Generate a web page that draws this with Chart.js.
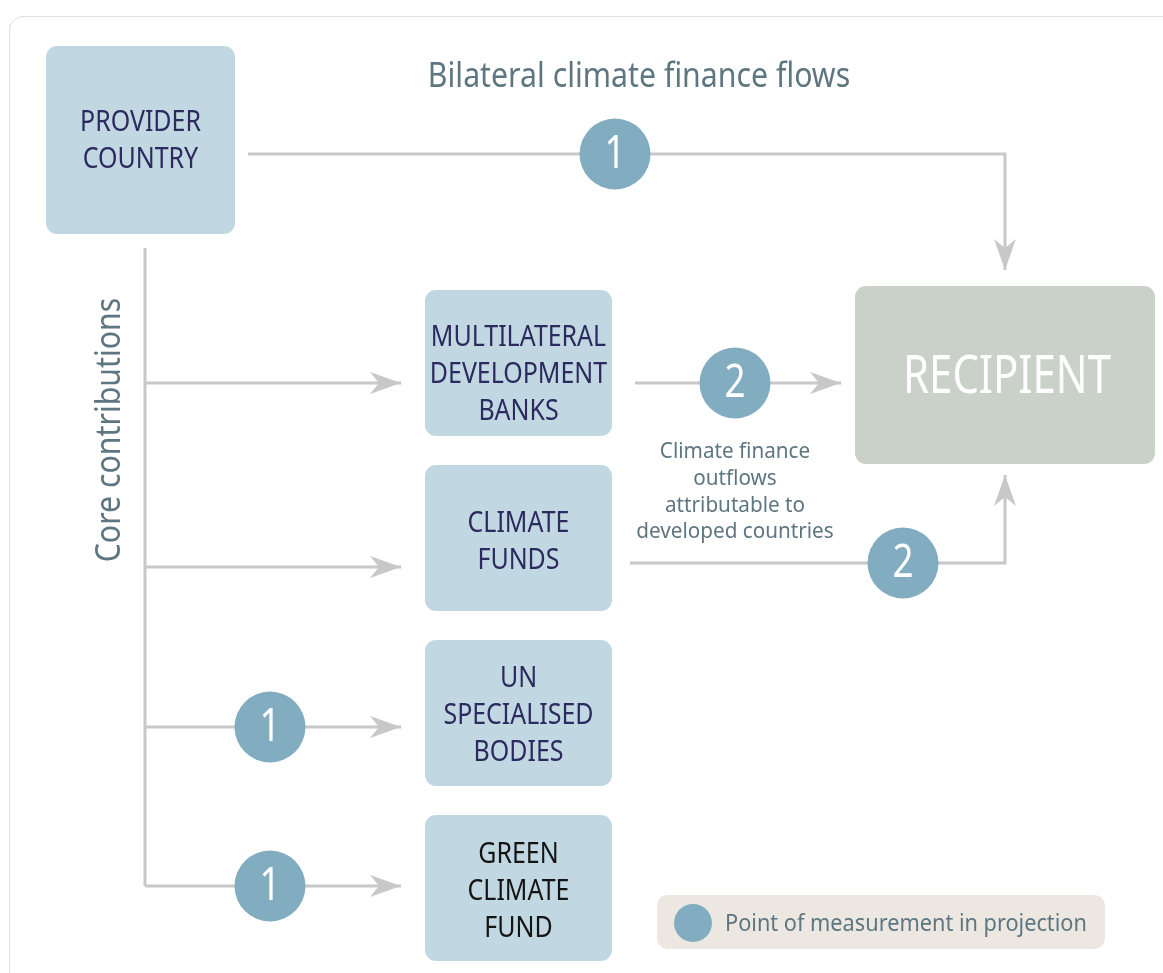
<!DOCTYPE html>
<html>
<head>
<meta charset="utf-8">
<script src="https://cdn.jsdelivr.net/npm/chart.js@4.4.1/dist/chart.umd.min.js"></script>
<style>
  html, body { margin: 0; padding: 0; background: #fff; overflow: hidden; }
  #frame { position: absolute; left: 9px; top: 16px; width: 1200px; height: 1000px;
           border: 1.5px solid #e0e0e0; border-radius: 14px; }
  #wrap { position: absolute; left: 0; top: 0; width: 1163px; height: 973px; }
</style>
</head>
<body>
<div id="frame"></div>
<div id="wrap"><canvas id="flowChart"></canvas></div>
<script>
// diagram grid: 0..1163 across, 0..973 down

// nodes
const boxLabels = [
  ['PROVIDER', 'COUNTRY'],
  ['MULTILATERAL', 'DEVELOPMENT', 'BANKS'],
  ['CLIMATE', 'FUNDS'],
  ['UN', 'SPECIALISED', 'BODIES'],
  ['GREEN', 'CLIMATE', 'FUND'],
  ['RECIPIENT']
];
const boxLeft   = [46, 425, 425, 425, 425, 855];
const boxTop    = [46, 290, 465, 640, 815, 286];
const boxRight  = [235, 612, 612, 612, 612, 1155];
const boxBottom = [234, 436, 611, 786, 961, 464];
// vertical centre of each label block
const labelMid  = [138.5, 372, 539, 713, 889, 375];

// flows (polylines), last point is the arrow tip when flowArrow is true
const flowPaths = [
  [[248, 154], [1005, 154], [1005, 270]],   // bilateral
  [[145, 248], [145, 886]],                 // core contributions trunk
  [[145, 383], [401, 383]],
  [[145, 567], [401, 567]],
  [[145, 727], [401, 727]],
  [[145, 886], [401, 886]],
  [[635, 383], [841, 383]],                 // MDB -> recipient
  [[630, 563], [1005, 563], [1005, 475]]    // climate funds -> recipient
];
const flowArrow = [true, false, true, true, true, true, true, true];

// points of measurement
const pointX = [615, 735, 903, 270, 270];
const pointY = [154, 383, 563, 727, 886];
const pointLabels = ['1', '2', '2', '1', '1'];

// free text
const titleText = 'Bilateral climate finance flows';
const sideText = 'Core contributions';
const noteLines = ['Climate finance', 'outflows', 'attributable to', 'developed countries'];
const legendText = 'Point of measurement in projection';

const lineGrey = '#c8c8c8';
const dotBlue = '#82adc0';
const slate = '#5e7680';

// Noto's "middle" sits a little high next to the original face
const BASE_FIX = 3;

function squeezedText(ctx, str, px, py, size, color, squeeze, align) {
  ctx.save();
  ctx.translate(px, py + BASE_FIX);
  ctx.scale(squeeze, 1);
  ctx.font = size + 'px "Noto Sans"';
  ctx.fillStyle = color;
  ctx.textAlign = align || 'center';
  ctx.textBaseline = 'middle';
  ctx.fillText(str, 0, 0);
  ctx.restore();
}

function roundBox(ctx, l, t, r, b, rad, color) {
  ctx.beginPath();
  ctx.roundRect(l, t, r - l, b - t, rad);
  ctx.fillStyle = color;
  ctx.fill();
}

const diagramPlugin = {
  id: 'diagram',
  beforeDatasetsDraw(chart) {
    const { ctx, scales: { x, y } } = chart;
    boxLabels.forEach((lines, i) => {
      roundBox(ctx, x.getPixelForValue(boxLeft[i]), y.getPixelForValue(boxTop[i]),
               x.getPixelForValue(boxRight[i]), y.getPixelForValue(boxBottom[i]),
               11, i === 5 ? '#c9d1c8' : '#c1d7e1');
    });
    // legend panel
    roundBox(ctx, x.getPixelForValue(657), y.getPixelForValue(895),
             x.getPixelForValue(1105), y.getPixelForValue(949), 11, '#ece7e1');
  },
  afterDatasetsDraw(chart) {
    const { ctx, scales: { x, y } } = chart;

    // arrow heads
    flowPaths.forEach((path, i) => {
      if (!flowArrow[i]) return;
      const a = path[path.length - 2], b = path[path.length - 1];
      const tx = x.getPixelForValue(b[0]), ty = y.getPixelForValue(b[1]);
      const ang = Math.atan2(ty - y.getPixelForValue(a[1]), tx - x.getPixelForValue(a[0]));
      ctx.save();
      ctx.translate(tx, ty);
      ctx.rotate(ang);
      ctx.beginPath();
      ctx.moveTo(0, 0);
      ctx.lineTo(-31, -11);
      ctx.lineTo(-22, 0);
      ctx.lineTo(-31, 11);
      ctx.closePath();
      ctx.fillStyle = lineGrey;
      ctx.fill();
      ctx.restore();
    });

    // numbers in the measurement dots
    pointLabels.forEach((lab, i) => {
      squeezedText(ctx, lab, x.getPixelForValue(pointX[i]), y.getPixelForValue(pointY[i]) - 2,
                   46, '#ffffff', 0.8);
    });

    // box labels
    boxLabels.forEach((lines, i) => {
      const cx = x.getPixelForValue((boxLeft[i] + boxRight[i]) / 2);
      const cy = y.getPixelForValue(labelMid[i]);
      if (i === 5) {
        squeezedText(ctx, lines[0], cx + 2, cy, 53, '#ffffff', 0.79);
        return;
      }
      const step = 36.8;
      const col = i === 4 ? '#141414' : '#2c2a5e';
      lines.forEach((ln, k) => {
        const off = (k - (lines.length - 1) / 2) * step;
        squeezedText(ctx, ln, cx, cy + off, 29, col, 0.86);
      });
    });

    // title
    squeezedText(ctx, titleText, x.getPixelForValue(639), y.getPixelForValue(74), 34, slate, 0.89);

    // vertical side label
    ctx.save();
    ctx.translate(x.getPixelForValue(110), y.getPixelForValue(430));
    ctx.rotate(-Math.PI / 2);
    squeezedText(ctx, sideText, 0, -3, 34, slate, 0.89);
    ctx.restore();

    // note under MDB flow
    noteLines.forEach((ln, k) => {
      squeezedText(ctx, ln, x.getPixelForValue(735), y.getPixelForValue(449 + k * 26.7), 22, slate, 0.94);
    });

    // legend text
    squeezedText(ctx, legendText, x.getPixelForValue(725), y.getPixelForValue(921), 24, slate, 0.905, 'left');
  }
};

const flowSets = flowPaths.map(path => ({
  type: 'line',
  data: path.map(([px, py]) => ({ x: px, y: py })),
  showLine: true,
  borderColor: lineGrey,
  borderWidth: 3,
  borderCapStyle: 'butt',
  borderJoinStyle: 'miter',
  pointRadius: 0,
  fill: false,
  tension: 0,
  order: 3
}));

const dotSet = {
  type: 'scatter',
  data: pointX.map((px, i) => ({ x: px, y: pointY[i] })),
  pointRadius: 35.5,
  pointBackgroundColor: dotBlue,
  pointBorderWidth: 0,
  order: 1
};

const legendDot = {
  type: 'scatter',
  data: [{ x: 693, y: 923 }],
  pointRadius: 19,
  pointBackgroundColor: dotBlue,
  pointBorderWidth: 0,
  order: 1
};

new Chart(document.getElementById('flowChart').getContext('2d'), {
  type: 'scatter',
  data: { datasets: [...flowSets, dotSet, legendDot] },
  options: {
    responsive: true,
    maintainAspectRatio: false,
    animation: false,
    events: [],
    layout: { padding: 0, autoPadding: false },
    scales: {
      x: { type: 'linear', min: 0, max: 1163, display: false },
      y: { type: 'linear', min: 0, max: 973, reverse: true, display: false }
    },
    plugins: {
      legend: { display: false },
      tooltip: { enabled: false }
    }
  },
  plugins: [diagramPlugin]
});
</script>
</body>
</html>
